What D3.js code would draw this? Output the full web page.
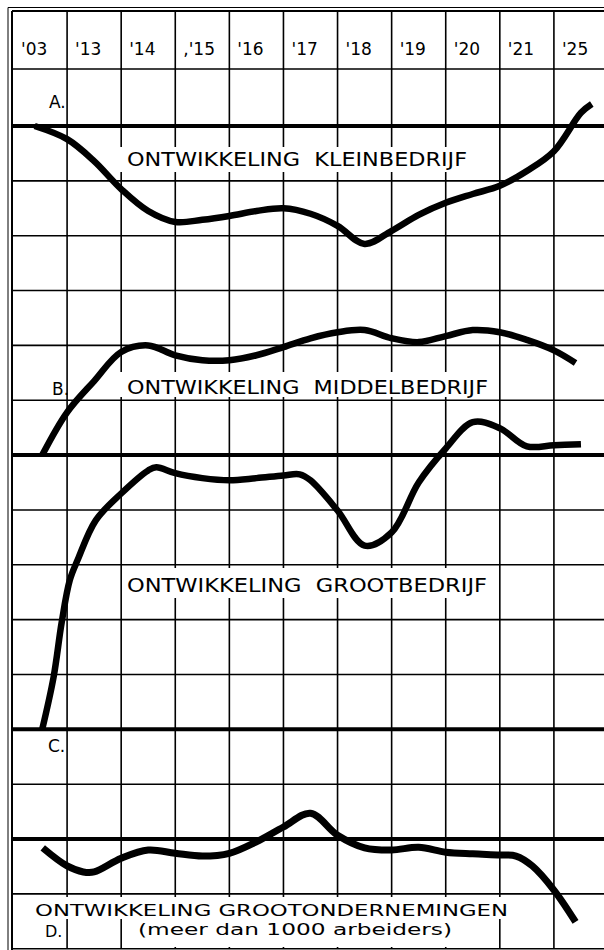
<!DOCTYPE html>
<html><head><meta charset="utf-8">
<script src="https://cdn.jsdelivr.net/npm/d3@7"></script>
<style>body{margin:0;background:#fff}svg{display:block}text{white-space:pre}</style>
</head><body>
<script>
// ---- data ----
const yearLabels = ["'03","'13","'14",",'15","'16","'17","'18","'19","'20","'21","'25"];
const panelLetters = ["A.","B.","C.","D."];
const panelTitles = ["ONTWIKKELING  KLEINBEDRIJF","ONTWIKKELING  MIDDELBEDRIJF","ONTWIKKELING  GROOTBEDRIJF"];
const titleD = "ONTWIKKELING GROOTONDERNEMINGEN";
const subTitleD = "(meer dan 1000 arbeiders)";

// positions in column units, values in grid rows above each panel's base line
const posA = [0.4,1,1.5,2,2.5,3,3.5,4,4.5,5,5.5,6,6.5,7,7.5,8,8.5,9,9.5,10,10.5,10.7];
const valA = [0,-0.24,-0.64,-1.15,-1.55,-1.75,-1.71,-1.64,-1.55,-1.5,-1.6,-1.82,-2.15,-1.91,-1.62,-1.4,-1.24,-1.09,-0.82,-0.46,0.24,0.4];
const posB = [0.54,1,1.5,2,2.5,3,3.5,4,4.5,5,5.5,6,6.5,7,7.5,8,8.5,9,9.5,10,10.4];
const valB = [0,0.78,1.35,1.88,2.0,1.82,1.73,1.73,1.82,1.97,2.13,2.24,2.28,2.13,2.06,2.17,2.28,2.24,2.1,1.91,1.68];
const posC = [0.54,0.75,0.9,1.05,1.2,1.53,2,2.5,2.65,3,3.5,4,4.5,5,5.3,5.5,6,6.5,7,7.5,8,8.5,9,9.5,10,10.5];
const valC = [0,0.95,1.95,2.72,3.1,3.81,4.3,4.72,4.78,4.67,4.58,4.54,4.58,4.63,4.65,4.54,3.99,3.35,3.59,4.5,5.12,5.6,5.49,5.16,5.18,5.2];
const posD = [0.55,1,1.3,1.5,2,2.5,3,3.5,4,4.5,5,5.5,6,6.5,7,7.5,8,8.5,9,9.3,9.6,10,10.4];
const valD = [-0.16,-0.49,-0.6,-0.6,-0.35,-0.2,-0.26,-0.31,-0.26,-0.05,0.22,0.47,0.07,-0.16,-0.2,-0.15,-0.24,-0.27,-0.29,-0.31,-0.49,-0.93,-1.51];
const baseRows = [0,6,11,13];

// ---- layout ----
const W = 604, H = 950;
const svg = d3.select("body").append("svg").attr("width", W).attr("height", H);
const x = d3.scaleLinear().domain([0, 11]).range([13, 608]);
const row = d3.scaleLinear().domain([0, 15]).range([126, 948.75]);
const headerY = 69, topY = 11;
const font = "'DejaVu Sans', 'Open Sans', sans-serif";

const grid = svg.append("g").attr("stroke", "#000").attr("fill", "none");
grid.selectAll("line.v").data(d3.range(1, 11)).join("line")
  .attr("x1", d => x(d)).attr("x2", d => x(d))
  .attr("y1", topY).attr("y2", row(15)).attr("stroke-width", 1.6);
grid.selectAll("line.h").data(d3.range(1, 16).filter(r => !baseRows.includes(r))).join("line")
  .attr("x1", 12).attr("x2", W).attr("y1", d => row(d)).attr("y2", d => row(d)).attr("stroke-width", 1.6);
grid.append("line").attr("x1", 12).attr("x2", W).attr("y1", headerY).attr("y2", headerY).attr("stroke-width", 1.6);
grid.append("line").attr("x1", 8).attr("x2", W).attr("y1", 7.5).attr("y2", 7.5).attr("stroke-width", 1);
grid.append("line").attr("x1", 12).attr("x2", W).attr("y1", topY).attr("y2", topY).attr("stroke-width", 2);
grid.append("line").attr("x1", 8).attr("x2", 8).attr("y1", 7.5).attr("y2", H).attr("stroke-width", 1);
grid.append("line").attr("x1", 12).attr("x2", 12).attr("y1", topY).attr("y2", H).attr("stroke-width", 2);

// white boxes behind titles
const boxes = [[120, 147, 355, 25], [120, 372, 372, 25], [124, 568, 366, 30], [14, 897, 498, 22], [128, 919, 330, 28]];
svg.append("g").selectAll("rect").data(boxes).join("rect")
  .attr("x", d => d[0]).attr("y", d => d[1]).attr("width", d => d[2]).attr("height", d => d[3]).attr("fill", "#fff");

// heavy base lines
svg.append("g").selectAll("line").data(baseRows).join("line")
  .attr("x1", 12).attr("x2", W).attr("y1", d => row(d)).attr("y2", d => row(d))
  .attr("stroke", "#000").attr("stroke-width", 4);

// header labels
svg.append("g").selectAll("text").data(yearLabels).join("text")
  .attr("x", (d, i) => x(i) + 8).attr("y", 55)
  .attr("font-family", font).attr("font-size", 17).attr("fill", "#000").text(d => d);

// curves
const series = [[posA, valA], [posB, valB], [posC, valC], [posD, valD]];
series.forEach(([p, v], k) => {
  const base = baseRows[k];
  const line = d3.line().x(d => x(d[0])).y(d => row(base - d[1])).curve(d3.curveCatmullRom.alpha(0.5));
  svg.append("path").datum(p.map((pp, i) => [pp, v[i]]))
    .attr("d", line).attr("fill", "none").attr("stroke", "#000")
    .attr("stroke-width", k === 3 ? 7 : 6.5).attr("stroke-linecap", "butt").attr("stroke-linejoin", "round");
});

// panel letters
const letterPos = [[49, 108], [52, 395], [48, 752], [45, 937]];
svg.append("g").selectAll("text").data(panelLetters).join("text")
  .attr("x", (d, i) => letterPos[i][0]).attr("y", (d, i) => letterPos[i][1])
  .attr("font-family", font).attr("font-size", (d, i) => i === 3 ? 16 : 17).attr("fill", "#000").text(d => d);

// titles
const titlePos = [[127, 166, 340], [127, 394, 361], [127, 592, 360]];
svg.append("g").selectAll("text").data(panelTitles).join("text")
  .attr("x", (d, i) => titlePos[i][0]).attr("y", (d, i) => titlePos[i][1])
  .attr("textLength", (d, i) => titlePos[i][2]).attr("lengthAdjust", "spacingAndGlyphs")
  .attr("font-family", font).attr("font-size", 19).attr("fill", "#000").text(d => d);
svg.append("text").attr("x", 35).attr("y", 916).attr("textLength", 473).attr("lengthAdjust", "spacingAndGlyphs")
  .attr("font-family", font).attr("font-size", 16).attr("fill", "#000").text(titleD);
svg.append("text").attr("x", 138).attr("y", 935).attr("textLength", 314).attr("lengthAdjust", "spacingAndGlyphs")
  .attr("font-family", font).attr("font-size", 16).attr("fill", "#000").text(subTitleD);
</script>
</body></html>
